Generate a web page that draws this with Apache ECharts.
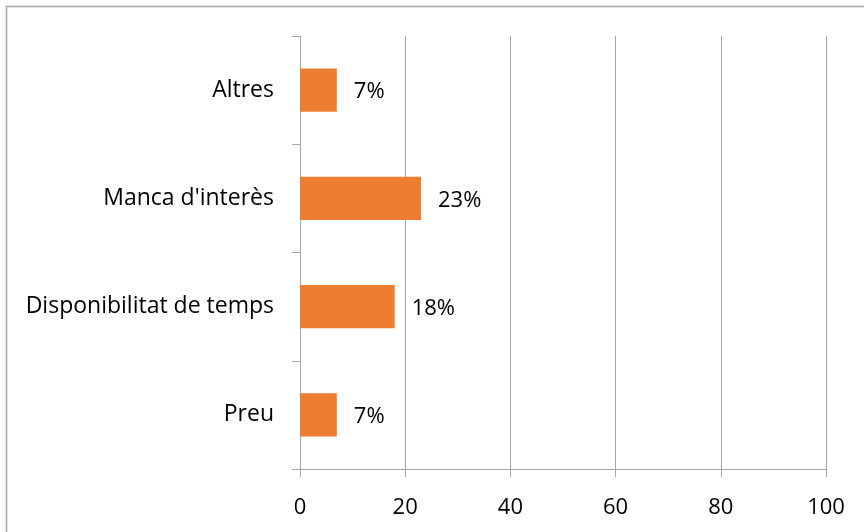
<!DOCTYPE html>
<html>
<head>
<meta charset="utf-8">
<script src="https://cdn.jsdelivr.net/npm/echarts@6/dist/echarts.min.js"></script>
<style>
html,body{margin:0;padding:0;background:#fff;}
#chart{width:864px;height:532px;}
</style>
</head>
<body>
<div id="chart"></div>
<script>
const categories = ['Preu', 'Disponibilitat de temps', "Manca d'interès", 'Altres'];
const values = [7, 18, 23, 7];
const xTicks = [0, 20, 40, 60, 80, 100];

const FONT = 'Open Sans';
const chart = echarts.init(document.getElementById('chart'), null, {renderer: 'canvas'});
chart.setOption({
  animation: false,
  backgroundColor: '#ffffff',
  graphic: [{
    type: 'rect',
    shape: {x: 6.5, y: 6.5, width: 900, height: 600},
    style: {fill: 'none', stroke: '#a6a6a6', lineWidth: 1.5},
    silent: true
  }],
  grid: {left: 300, right: 38, top: 36, bottom: 63, containLabel: false},
  xAxis: {
    type: 'value',
    min: xTicks[0],
    max: xTicks[xTicks.length - 1],
    interval: 20,
    axisLine: {show: true, lineStyle: {color: '#a6a6a6', width: 1}},
    axisTick: {show: true, length: 8, lineStyle: {color: '#a6a6a6'}},
    splitLine: {show: true, lineStyle: {color: '#a6a6a6', width: 1}},
    axisLabel: {color: '#000', fontFamily: FONT, fontSize: 22, margin: 28}
  },
  yAxis: {
    type: 'category',
    data: categories,
    axisLine: {show: true, lineStyle: {color: '#a6a6a6', width: 1}},
    axisTick: {show: true, length: 8, alignWithLabel: false, lineStyle: {color: '#a6a6a6'}},
    axisLabel: {color: '#000', fontFamily: FONT, fontSize: 23, margin: 26}
  },
  series: [{
    type: 'bar',
    data: values,
    barWidth: '40%',
    itemStyle: {color: '#ED7D31'},
    label: {
      show: true,
      position: 'right',
      distance: 17,
      offset: [0, 2],
      formatter: p => p.value + '%',
      color: '#000',
      fontFamily: FONT,
      fontSize: 22
    }
  }]
});
</script>
</body>
</html>
